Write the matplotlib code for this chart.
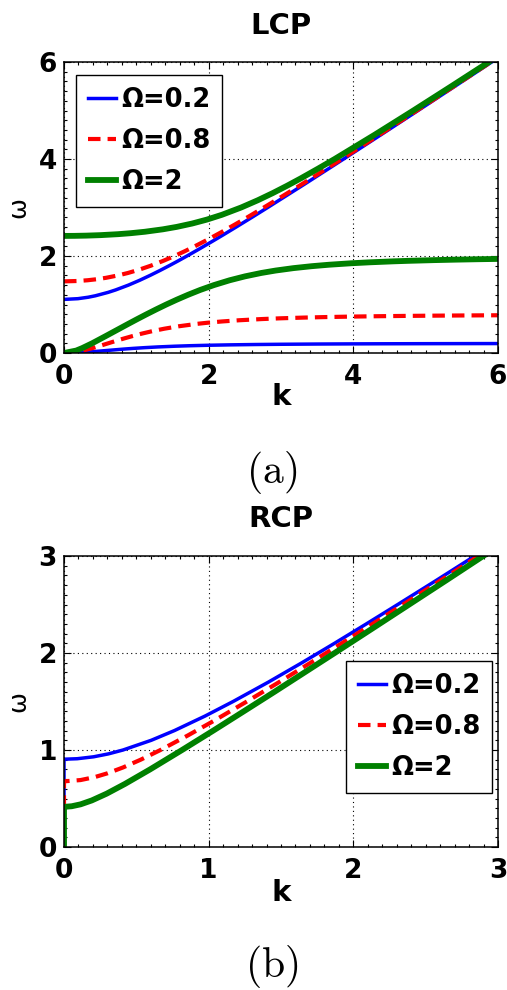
import matplotlib
matplotlib.use('Agg')
import matplotlib.pyplot as plt
from matplotlib.ticker import MultipleLocator

plt.rcParams['font.family'] = ['DejaVu Sans']
plt.rcParams['font.weight'] = 'bold'

# ---------------- data ----------------
omegas = ['0.2', '0.8', '2']
labels = ['\u03a9=' + o for o in omegas]

# LCP, upper branch
lcp_up_k = [
    [0.0, 0.192, 0.335, 0.434, 0.610, 0.713, 0.891, 1.047, 1.190, 1.325, 1.454, 1.579, 1.700, 1.876, 2.048,
     2.217, 2.383, 2.601, 2.816, 3.345, 3.866, 4.382, 4.895, 5.405, 5.913],
    [0.0, 0.193, 0.327, 0.446, 0.580, 0.748, 0.884, 1.043, 1.200, 1.372, 1.528, 1.672, 1.808, 2.002, 2.186,
     2.364, 2.538, 2.763, 2.984, 3.202, 3.417, 3.841, 4.363, 4.880, 5.393, 5.903],
    [0.0, 0.145, 0.307, 0.504, 0.747, 0.920, 1.118, 1.366, 1.558, 1.773, 1.974, 2.184, 2.449, 2.680, 2.890,
     3.086, 3.273, 3.511, 3.742, 4.295, 4.830, 5.355, 5.874],
]
lcp_up_w = [
    [1.105, 1.12, 1.15, 1.18, 1.25, 1.30, 1.40, 1.50, 1.60, 1.70, 1.80, 1.90, 2.00, 2.15, 2.30,
     2.45, 2.60, 2.80, 3.00, 3.50, 4.00, 4.50, 5.00, 5.50, 6.00],
    [1.477, 1.485, 1.50, 1.52, 1.55, 1.60, 1.65, 1.72, 1.80, 1.90, 2.00, 2.10, 2.20, 2.35, 2.50,
     2.65, 2.80, 3.00, 3.20, 3.40, 3.60, 4.00, 4.50, 5.00, 5.50, 6.00],
    [2.414, 2.4155, 2.42, 2.43, 2.45, 2.47, 2.50, 2.55, 2.60, 2.67, 2.75, 2.85, 3.00, 3.15, 3.30,
     3.45, 3.60, 3.80, 4.00, 4.50, 5.00, 5.50, 6.00],
]
# LCP, lower branch
lcp_lo_k = [
    [0.0, 0.230, 0.334, 0.421, 0.580, 0.820, 0.956, 1.111, 1.297, 1.534, 1.739, 2.006, 2.297, 2.652,
     3.005, 3.517, 3.963, 4.363, 4.903, 5.690, 6.006],
    [0.0, 0.161, 0.263, 0.391, 0.503, 0.611, 0.719, 0.831, 0.949, 1.077, 1.220, 1.384, 1.582, 1.833,
     1.990, 2.181, 2.420, 2.737, 2.987, 3.311, 3.589, 3.945, 4.315, 4.737, 5.124, 5.621, 5.997],
    [0.0, 0.168, 0.250, 0.389, 0.578, 0.764, 0.888, 1.014, 1.143, 1.276, 1.414, 1.560, 1.715, 1.883,
     2.072, 2.291, 2.502, 2.727, 2.925, 3.172, 3.425, 3.664, 3.969, 4.229, 4.556, 4.755, 5.118, 5.420,
     5.709, 6.008],
]
lcp_lo_w = [
    [0.0, 0.01, 0.02, 0.03, 0.05, 0.08, 0.095, 0.11, 0.125, 0.14, 0.15, 0.16, 0.168, 0.175,
     0.18, 0.185, 0.188, 0.19, 0.192, 0.194, 0.1946],
    [0.0, 0.02, 0.05, 0.10, 0.15, 0.20, 0.25, 0.30, 0.35, 0.40, 0.45, 0.50, 0.55, 0.60,
     0.625, 0.65, 0.675, 0.70, 0.715, 0.73, 0.74, 0.75, 0.758, 0.765, 0.77, 0.775, 0.778],
    [0.0, 0.05, 0.10, 0.20, 0.35, 0.50, 0.60, 0.70, 0.80, 0.90, 1.00, 1.10, 1.20, 1.30,
     1.40, 1.50, 1.58, 1.65, 1.70, 1.75, 1.79, 1.82, 1.85, 1.87, 1.89, 1.90, 1.915, 1.925,
     1.933, 1.94],
]
# RCP (starts with the segment along k=0)
rcp_k = [
    [0.0, 0.0, 0.091, 0.205, 0.307, 0.408, 0.603, 0.763, 0.975, 1.169, 1.413, 1.645, 1.870, 2.090, 2.307, 2.575, 2.839],
    [0.0, 0.0, 0.114, 0.211, 0.301, 0.408, 0.530, 0.667, 0.856, 1.035, 1.264, 1.487, 1.705, 1.920, 2.133, 2.344, 2.605, 2.865],
    [0.0, 0.0, 0.053, 0.115, 0.192, 0.295, 0.421, 0.595, 0.816, 1.032, 1.244, 1.455, 1.663, 1.871, 2.129, 2.386, 2.643, 2.898],
]
rcp_w = [
    [0.0, 0.905, 0.91, 0.93, 0.96, 1.00, 1.10, 1.20, 1.35, 1.50, 1.70, 1.90, 2.10, 2.30, 2.50, 2.75, 3.00],
    [0.0, 0.677, 0.69, 0.72, 0.76, 0.82, 0.90, 1.00, 1.15, 1.30, 1.50, 1.70, 1.90, 2.10, 2.30, 2.50, 2.75, 3.00],
    [0.0, 0.414, 0.42, 0.44, 0.48, 0.55, 0.65, 0.80, 1.00, 1.20, 1.40, 1.60, 1.80, 2.00, 2.25, 2.50, 2.75, 3.00],
]

lcp_ticks = [0, 2, 4, 6]
rcp_ticks = [0, 1, 2, 3]

# ---------------- styles ----------------
colors = ['#0000ff', '#ff0000', '#008000']
styles = [dict(lw=2.5, ls='-'),
          dict(lw=3.0, ls=(0, (3.0, 1.7))),
          dict(lw=4.2, ls='-')]

W, H = 507, 990
fig = plt.figure(figsize=(W / 100, H / 100), dpi=100)


def rect(l, t, r, b):
    return [l / W, 1 - b / H, (r - l) / W, (b - t) / H]


ax1 = fig.add_axes(rect(64, 62, 498, 353))
ax2 = fig.add_axes(rect(64, 556, 498, 847))

for i in range(3):
    ax1.plot(lcp_up_k[i], lcp_up_w[i], color=colors[i], label=labels[i], **styles[i])
    ax1.plot(lcp_lo_k[i], lcp_lo_w[i], color=colors[i], **styles[i])
    ax2.plot(rcp_k[i], rcp_w[i], color=colors[i], label=labels[i], **styles[i])


def style_axes(ax, ticks, minor):
    ax.set_xlim(ticks[0], ticks[-1])
    ax.set_ylim(ticks[0], ticks[-1])
    ax.set_xticks(ticks)
    ax.set_yticks(ticks)
    ax.xaxis.set_minor_locator(MultipleLocator(minor))
    ax.yaxis.set_minor_locator(MultipleLocator(minor))
    ax.tick_params(which='both', direction='in', top=True, right=True, width=0.8)
    ax.tick_params(which='major', length=5, labelsize=19)
    ax.tick_params(axis='x', which='major', pad=8)
    ax.tick_params(axis='y', which='major', pad=5)
    ax.tick_params(which='minor', length=2.5)
    ax.grid(True, which='major', ls=(0, (1, 3)), color='black', lw=0.8)
    ax.set_axisbelow(True)
    for s in ax.spines.values():
        s.set_linewidth(1.1)
    for lab in ax.get_xticklabels() + ax.get_yticklabels():
        lab.set_fontweight('bold')


style_axes(ax1, lcp_ticks, 0.2)
style_axes(ax2, rcp_ticks, 0.1)

legkw = dict(fontsize=18.5, frameon=True, fancybox=False, framealpha=1,
             edgecolor='black', handlelength=1.1, handletextpad=0.2,
             labelspacing=0.6, borderpad=0.45, borderaxespad=0)
lg1 = ax1.legend(loc='upper left', bbox_to_anchor=(0.028, 0.955), **legkw)
lg2 = ax2.legend(loc='upper left', bbox_to_anchor=(0.650, 0.639), **legkw)
for lg in (lg1, lg2):
    lg.get_frame().set_linewidth(1.0)
    for t in lg.get_texts():
        t.set_fontweight('bold')


def px(x, y):
    return x / W, 1 - y / H


fig.text(*px(281, 26), 'LCP', ha='center', va='center', fontsize=21, fontweight='bold')
fig.text(*px(281, 519), 'RCP', ha='center', va='center', fontsize=21, fontweight='bold')
fig.text(*px(281, 397), 'k', ha='center', va='center', fontsize=21, fontweight='bold')
fig.text(*px(281, 893), 'k', ha='center', va='center', fontsize=21, fontweight='bold')
fig.text(*px(18, 207), '\u03c9', ha='center', va='center', fontsize=18, fontweight='normal', rotation=90)
fig.text(*px(18, 701), '\u03c9', ha='center', va='center', fontsize=18, fontweight='normal', rotation=90)
fig.text(*px(272, 472), r'$(\mathrm{a})$', ha='center', va='center', fontsize=30, math_fontfamily='cm')
fig.text(*px(272, 966), r'$(\mathrm{b})$', ha='center', va='center', fontsize=30, math_fontfamily='cm')

fig.savefig('out.png', dpi=100)
